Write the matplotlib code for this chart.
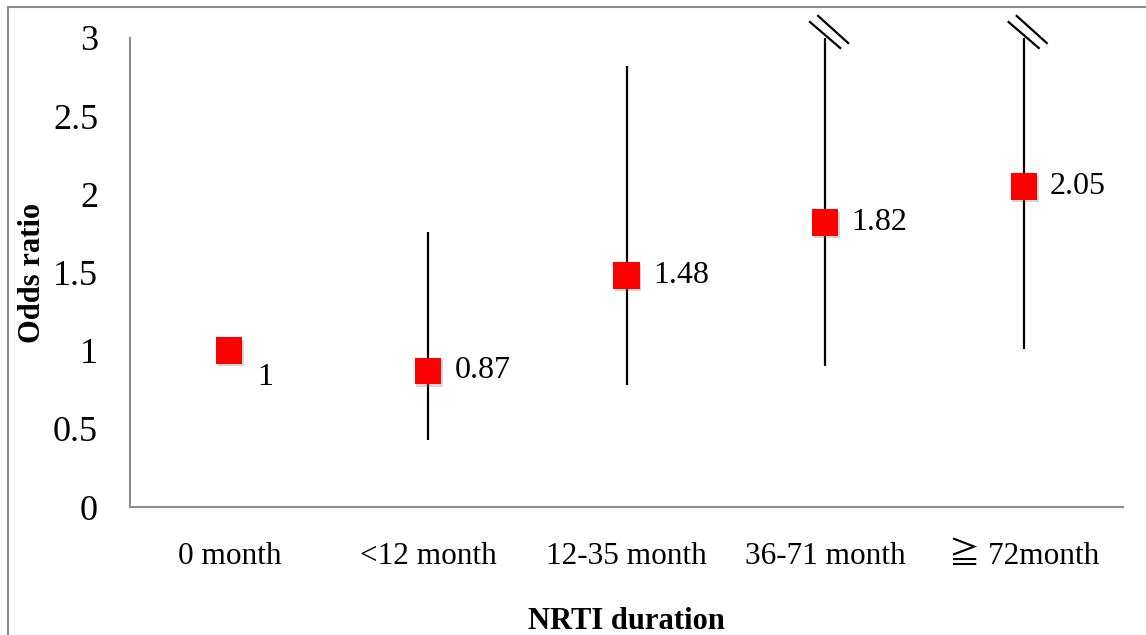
import matplotlib
matplotlib.use("Agg")
import matplotlib.pyplot as plt
import matplotlib.patheffects as pe
from matplotlib.lines import Line2D
import numpy as np

categories = ["0 month", "<12 month", "12-35 month", "36-71 month", "\u2267 72month"]
odds_ratio = [1.00, 0.87, 1.48, 1.82, 2.05]
ci_lower = [None, 0.43, 0.78, 0.90, 1.01]
ci_upper = [None, 1.76, 2.82, None, None]   # None = upper limit beyond the axis (broken)
value_labels = ["1", "0.87", "1.48", "1.82", "2.05"]
y_ticks = [0, 0.5, 1, 1.5, 2, 2.5, 3]
y_max = 3

plt.rcParams["font.family"] = ["Liberation Serif", "Noto Sans CJK JP", "DejaVu Serif"]

fig = plt.figure(figsize=(11.46, 6.35), dpi=100)
ax = fig.add_axes([130 / 1146, 1 - 507 / 635, (1123 - 130) / 1146, (507 - 38) / 635])

x = np.arange(len(categories))
ax.set_xlim(-0.5, len(categories) - 0.5)
ax.set_ylim(0, y_max)

# error bars
for xi, lo, hi in zip(x, ci_lower, ci_upper):
    if lo is None:
        continue
    top = y_max if hi is None else hi
    ax.vlines(xi, lo, top, color="black", lw=1.6, zorder=2, clip_on=False)
    if hi is None:
        # axis-break marks at the top of the bar
        for dx0, dx1, y0, y1 in [(-0.076, 0.076, 3.102, 2.936), (-0.035, 0.116, 3.141, 2.968)]:
            ax.add_line(Line2D([xi + dx0, xi + dx1], [y0, y1], color="black", lw=1.6,
                               clip_on=False, zorder=3))

# markers
ax.scatter(x, odds_ratio, marker="s", s=19 ** 2, color="#ff0000", zorder=4,
           linewidths=0,
           path_effects=[pe.withSimplePatchShadow(offset=(1.2, -1.8), shadow_rgbFace="#888888", alpha=0.35)])

# value labels
for i, (xi, v, lab) in enumerate(zip(x, odds_ratio, value_labels)):
    if i == 0:
        ax.annotate(lab, (xi, v), xytext=(20, -19), textcoords="offset points",
                    ha="left", va="center", fontsize=23)
    else:
        ax.annotate(lab, (xi, v), xytext=(19, 0), textcoords="offset points",
                    ha="left", va="center", fontsize=23)

ax.set_xticks(x)
ax.set_xticklabels(categories, fontsize=22.5)
ax.set_yticks(y_ticks)
ax.set_yticklabels([f"{t:g}" for t in y_ticks], fontsize=26)
ax.tick_params(axis="both", length=0)
ax.tick_params(axis="x", pad=25)
ax.tick_params(axis="y", pad=23)

for s in ["top", "right"]:
    ax.spines[s].set_visible(False)
for s in ["left", "bottom"]:
    ax.spines[s].set_color("#8c8c8c")
    ax.spines[s].set_linewidth(1.5)

ax.set_ylabel("Odds ratio", fontsize=22, fontweight="bold", labelpad=4)
ax.set_xlabel("NRTI duration", fontsize=22, fontweight="bold", labelpad=26)

# outer frame (top and left edges visible in the crop)
fig.add_artist(Line2D([8 / 1146, 1], [1 - 7 / 635, 1 - 7 / 635], color="#8c8c8c", lw=1.5,
                      transform=fig.transFigure))
fig.add_artist(Line2D([8 / 1146, 8 / 1146], [0, 1 - 7 / 635], color="#8c8c8c", lw=1.5,
                      transform=fig.transFigure))

fig.savefig("out.png", dpi=100)
